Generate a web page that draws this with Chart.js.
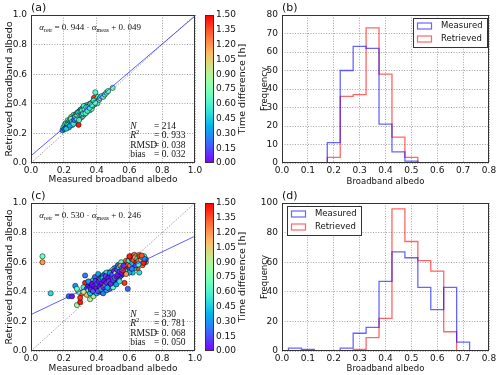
<!DOCTYPE html>
<html lang="en">
<head>
  <meta charset="UTF-8" />
  <title>Broadband albedo: measured vs retrieved</title>
  <script src="https://cdn.jsdelivr.net/npm/chart.js"></script>
  <style>
    body { margin: 0; background: #fff; }
    #fig { position: relative; width: 500px; height: 375px; }
    #fig canvas { position: absolute; }
  </style>
</head>
<body>
  <div id="fig">
    <canvas id="scatterTop" width="250" height="187" style="left:0;top:0"></canvas>
    <canvas id="histTop" width="250" height="187" style="left:250px;top:0"></canvas>
    <canvas id="scatterBottom" width="250" height="188" style="left:0;top:187px"></canvas>
    <canvas id="histBottom" width="250" height="188" style="left:250px;top:187px"></canvas>
  </div>

  <script>
    // ---- tick values ----
    const albedoTicks = [0, 0.2, 0.4, 0.6, 0.8, 1.0];
    const histAlbedoTicks = [0, 0.1, 0.2, 0.3, 0.4, 0.5, 0.6, 0.7, 0.8];
    const freqTicksTop = [0, 10, 20, 30, 40, 50, 60, 70, 80];
    const freqTicksBottom = [0, 20, 40, 60, 80, 100];
    const timeTicks = [0, 0.15, 0.30, 0.45, 0.60, 0.75, 0.90, 1.05, 1.20, 1.35, 1.50];

    // ---- panel (a): scatter ----
    const measA = [
      0.192,0.198,0.203,0.207,0.211,0.214,0.218,0.221,0.224,0.226,
      0.229,0.231,0.234,0.236,0.238,0.241,0.243,0.245,0.247,0.249,
      0.252,0.254,0.256,0.258,0.260,0.262,0.264,0.266,0.268,0.270,
      0.272,0.274,0.276,0.278,0.280,0.282,0.284,0.286,0.288,0.290,
      0.292,0.294,0.296,0.298,0.300,0.302,0.304,0.306,0.308,0.310,
      0.312,0.314,0.316,0.318,0.320,0.322,0.324,0.326,0.328,0.330,
      0.332,0.334,0.336,0.338,0.340,0.343,0.346,0.349,0.352,0.355,
      0.358,0.361,0.364,0.367,0.370,0.373,0.376,0.380,0.384,0.388,
      0.392,0.396,0.400,0.405,0.410,0.415,0.420,0.430,0.440,0.450,
      0.460,0.470,0.498,0.215,0.228,0.237,0.244,0.251,0.259,0.263,
      0.271,0.277,0.283,0.289,0.293,0.297,0.303,0.307,0.311,0.317,
      0.321,0.327,0.333,0.337,0.344,0.350,0.357,0.363,0.372,0.382,
      0.391
    ];
    const retrA = [
      0.222,0.241,0.229,0.262,0.236,0.270,0.247,0.262,0.289,0.246,
      0.274,0.240,0.284,0.270,0.296,0.268,0.282,0.311,0.266,0.293,
      0.257,0.303,0.276,0.298,0.325,0.280,0.307,0.271,0.316,0.295,
      0.328,0.290,0.319,0.283,0.335,0.306,0.341,0.297,0.326,0.258,
      0.312,0.349,0.301,0.337,0.318,0.360,0.322,0.347,0.309,0.366,
      0.333,0.352,0.318,0.371,0.340,0.362,0.329,0.380,0.347,0.337,
      0.374,0.352,0.389,0.343,0.366,0.385,0.357,0.394,0.368,0.382,
      0.356,0.401,0.375,0.389,0.366,0.410,0.386,0.397,0.440,0.398,
      0.478,0.412,0.433,0.404,0.447,0.427,0.439,0.452,0.447,0.463,
      0.476,0.486,0.508,0.232,0.258,0.252,0.298,0.279,0.265,0.291,
      0.312,0.301,0.322,0.340,0.290,0.327,0.343,0.328,0.355,0.336,
      0.385,0.362,0.336,0.377,0.352,0.378,0.372,0.398,0.392,0.421,
      0.407
    ];
    const timeDiffA = [
      0.40,0.55,0.30,0.62,0.45,0.66,0.35,0.58,0.70,0.25,
      0.60,0.50,0.65,0.55,0.80,0.62,0.58,0.68,0.45,0.60,
      0.50,0.70,0.62,0.40,0.66,0.55,0.60,0.20,0.64,0.58,
      0.62,0.55,0.68,0.35,0.62,0.60,0.45,0.66,0.58,1.45,
      0.62,0.50,0.90,0.64,0.55,0.30,0.66,0.60,0.60,0.68,
      0.58,0.62,0.62,0.40,0.64,0.55,0.68,0.60,0.50,1.45,
      0.66,0.62,0.58,0.30,0.66,0.60,0.64,0.68,0.55,1.40,
      0.60,0.50,0.66,0.62,0.75,0.58,0.64,0.55,1.40,0.60,
      0.64,0.68,0.62,0.60,0.66,0.62,0.58,0.64,0.62,0.58,
      0.62,0.66,0.72,0.45,0.60,0.35,0.66,0.62,0.58,0.25,
      0.64,0.60,0.68,0.55,0.62,0.85,0.66,0.40,0.60,0.64,
      0.58,0.62,0.66,0.55,0.60,0.70,0.55,0.64,0.62,0.60,
      0.66
    ];
    const fitA = [0.944, 0.049];           // slope, intercept
    const statsA = [214, 0.933, 0.038, 0.032];

    // ---- panel (c): scatter ----
    const measC = [
      0.07,0.07,0.12,0.23,0.25,0.27,0.28,0.30,0.30,0.31,
      0.29,0.28,0.33,0.33,0.32,0.59,0.57,0.36,0.38,0.34,
      0.66,0.62,0.70,0.70,0.34,0.35,0.35,0.36,0.36,0.37,
      0.37,0.37,0.38,0.38,0.38,0.39,0.39,0.39,0.39,0.40,
      0.40,0.40,0.40,0.41,0.41,0.41,0.41,0.42,0.42,0.42,
      0.42,0.43,0.43,0.43,0.43,0.44,0.44,0.44,0.44,0.45,
      0.45,0.45,0.45,0.46,0.46,0.46,0.46,0.47,0.47,0.47,
      0.47,0.48,0.48,0.48,0.48,0.49,0.49,0.49,0.49,0.50,
      0.50,0.50,0.50,0.51,0.51,0.51,0.51,0.52,0.52,0.52,
      0.52,0.53,0.53,0.53,0.53,0.54,0.54,0.54,0.54,0.55,
      0.55,0.55,0.56,0.56,0.56,0.57,0.57,0.57,0.58,0.58,
      0.58,0.59,0.59,0.60,0.60,0.60,0.61,0.61,0.61,0.62,
      0.62,0.62,0.63,0.63,0.63,0.64,0.64,0.64,0.65,0.65,
      0.65,0.66,0.66,0.66,0.67,0.67,0.68,0.68,0.69,0.69,
      0.63,0.60,0.55,0.46,0.36,0.32,0.35,0.44,0.50,0.58,
      0.365,0.372,0.378,0.385,0.392,0.398,0.404,0.408,0.413,0.418,
      0.423,0.427,0.432,0.437,0.441,0.446,0.451,0.456,0.461,0.466,
      0.471,0.476,0.481,0.486,0.491,0.496,0.501,0.506,0.511,0.516,
      0.521,0.526,0.531,0.536,0.541,0.546,0.551,0.556,0.561,0.566,
      0.592,0.598,0.604,0.612,0.618,0.626,0.634,0.642,0.648,0.656,
      0.662,0.672,0.678,0.685,0.692,0.640,0.615,0.655,0.600,0.675
    ];
    const retrC = [
      0.64,0.60,0.39,0.37,0.37,0.44,0.31,0.33,0.36,0.39,
      0.40,0.42,0.51,0.46,0.43,0.42,0.46,0.35,0.37,0.38,
      0.53,0.53,0.60,0.62,0.42,0.44,0.41,0.43,0.46,0.40,
      0.44,0.47,0.42,0.45,0.48,0.40,0.43,0.46,0.50,0.41,
      0.44,0.47,0.39,0.42,0.45,0.48,0.52,0.40,0.43,0.46,
      0.49,0.41,0.44,0.47,0.50,0.42,0.45,0.48,0.39,0.43,
      0.46,0.49,0.52,0.41,0.44,0.47,0.50,0.43,0.46,0.49,
      0.53,0.45,0.48,0.51,0.42,0.44,0.47,0.50,0.54,0.46,
      0.49,0.52,0.43,0.47,0.50,0.53,0.56,0.48,0.51,0.54,
      0.45,0.49,0.52,0.55,0.58,0.50,0.53,0.56,0.47,0.51,
      0.54,0.57,0.52,0.55,0.58,0.53,0.56,0.59,0.55,0.58,
      0.61,0.57,0.60,0.56,0.59,0.62,0.58,0.61,0.64,0.57,
      0.60,0.63,0.59,0.62,0.65,0.58,0.61,0.64,0.60,0.63,
      0.56,0.59,0.62,0.65,0.60,0.63,0.58,0.62,0.60,0.64,
      0.56,0.53,0.60,0.53,0.39,0.40,0.47,0.51,0.55,0.52,
      0.415,0.452,0.405,0.438,0.472,0.425,0.455,0.405,0.468,0.435,
      0.485,0.418,0.458,0.492,0.432,0.475,0.445,0.505,0.462,0.428,
      0.495,0.472,0.528,0.455,0.488,0.515,0.478,0.542,0.495,0.525,
      0.505,0.548,0.515,0.565,0.535,0.575,0.528,0.562,0.545,0.578,
      0.585,0.612,0.575,0.625,0.595,0.615,0.632,0.598,0.625,0.610,
      0.640,0.615,0.632,0.595,0.622,0.578,0.555,0.585,0.640,0.645
    ];
    const timeDiffC = [
      0.70,1.20,0.50,0.20,0.05,0.30,0.80,1.45,1.40,1.35,
      0.75,0.70,0.25,1.45,0.60,0.20,1.40,0.90,0.85,1.10,
      0.50,0.45,0.55,1.40,0.10,0.05,0.65,0.02,0.15,0.25,
      0.08,1.30,0.03,0.20,0.55,0.12,0.05,0.30,0.18,0.00,
      0.10,0.95,0.40,0.06,0.22,0.04,0.35,0.15,0.02,0.12,
      0.70,0.08,0.28,0.05,0.20,0.10,0.00,1.05,0.25,0.06,
      0.16,0.03,0.60,0.30,0.04,0.10,0.85,0.14,0.02,0.24,
      0.08,0.06,0.12,0.45,0.20,0.00,0.30,0.05,1.10,0.10,
      0.18,0.02,0.65,0.08,0.95,0.15,0.25,0.04,0.22,0.10,
      0.35,0.12,0.00,0.70,0.20,0.28,0.06,1.25,0.55,0.15,
      0.40,0.05,0.10,0.85,0.30,0.02,0.18,1.40,0.60,0.25,
      1.30,1.45,0.55,0.20,1.35,0.50,1.20,0.10,1.45,0.62,
      1.40,1.15,0.30,1.45,1.30,0.55,1.25,1.00,1.45,0.60,
      1.35,0.15,1.45,1.20,0.58,1.40,1.30,0.25,1.45,0.65,
      0.45,0.35,0.65,0.50,0.45,0.95,0.30,0.15,0.75,1.20,
      0.08,0.02,0.18,0.00,0.10,0.04,0.26,0.12,0.06,0.00,
      0.15,0.32,0.03,0.40,0.09,0.00,0.20,0.12,0.05,0.35,
      0.02,0.14,0.30,0.07,0.00,0.18,0.10,0.04,0.25,0.90,
      0.06,0.15,0.02,0.45,0.12,1.20,0.00,0.20,1.45,0.08,
      1.40,0.60,1.30,1.45,0.40,1.35,1.20,1.45,0.55,1.30,
      1.40,1.10,0.50,1.45,0.30,0.15,0.25,0.60,1.45,1.35
    ];
    const fitC = [0.530, 0.246];
    const statsC = [330, 0.781, 0.068, 0.050];

    // ---- panel (b): histogram ----
    const edgesMeasB = [0.175, 0.225, 0.275, 0.325, 0.375, 0.425, 0.475, 0.525];
    const countsMeasB = [11, 50, 63, 62, 21, 6, 1];
    const edgesRetrB = [0.175, 0.225, 0.275, 0.325, 0.375, 0.425, 0.475, 0.525];
    const countsRetrB = [3, 36, 37, 73, 48, 14, 3];

    // ---- panel (d): histogram ----
    const edgesMeasD = [0.025, 0.075, 0.125, 0.175, 0.225, 0.275, 0.325, 0.375,
                        0.425, 0.475, 0.525, 0.575, 0.625, 0.675, 0.725];
    const countsMeasD = [2, 1, 0, 0, 2, 12, 16, 47, 67, 63, 43, 28, 43, 6];
    const edgesRetrD = [0.275, 0.325, 0.375, 0.425, 0.475, 0.525, 0.575, 0.625, 0.675];
    const countsRetrD = [1, 9, 22, 96, 74, 61, 54, 13];

    Chart.defaults.font.family = 'DejaVu Sans';
    Chart.defaults.color = '#111';

    const tickFont = { family: 'DejaVu Sans', size: 9 };

    // matplotlib "rainbow" colormap
    function rainbow(f) {
      const r = Math.min(1, Math.abs(2 * f - 0.5));
      const g = Math.sin(Math.PI * f);
      const b = Math.cos(Math.PI * f / 2);
      return `rgb(${Math.round(r * 255)},${Math.round(g * 255)},${Math.round(b * 255)})`;
    }

    function stepPoints(edges, counts) {
      const pts = [{ x: edges[0], y: 0 }];
      counts.forEach((c, i) => pts.push({ x: edges[i], y: c }));
      pts.push({ x: edges[edges.length - 1], y: 0 });
      return pts;
    }

    function axis(pos, tickVals, digits, title, titleSize, titlePad, size) {
      return {
        type: 'linear',
        position: pos,
        min: tickVals[0],
        max: tickVals[tickVals.length - 1],
        afterBuildTicks: s => { s.ticks = tickVals.map(v => ({ value: v })); },
        ticks: {
          font: tickFont, color: '#111', autoSkip: false, maxRotation: 0,
          padding: pos === 'left' ? 4 : 2,
          callback: v => v.toFixed(digits)
        },
        grid: { color: '#8c8c8c', lineWidth: 0.8, drawTicks: false },
        border: { display: false, dash: [1, 1.6] },
        title: {
          display: true, text: title, color: '#111',
          font: { family: 'DejaVu Sans', size: titleSize },
          padding: titlePad
        },
        afterFit: s => { if (pos === 'left') s.width = size; else s.height = size; }
      };
    }

    // draws a run of text pieces: [text, font, dy]
    function richText(ctx, x, y, parts) {
      parts.forEach(([t, f, dy]) => {
        ctx.font = f;
        ctx.fillText(t, x, y + (dy || 0));
        x += ctx.measureText(t).width;
      });
    }

    const mIt = 'italic 9.5px "Liberation Serif"';
    const mRm = '9.5px "Liberation Serif"';
    const mSub = '6.5px "Liberation Serif"';
    const eIt = 'italic 9px "Liberation Serif"';
    const eRm = '9px "Liberation Serif"';
    const eSub = '6px "Liberation Serif"';
    const mathNum = (v, d) => v.toFixed(d).replace('.', '. ');

    const deco = {
      id: 'deco',
      afterDraw(chart, args, o) {
        const ctx = chart.ctx, a = chart.chartArea;
        const w = a.right - a.left, h = a.bottom - a.top;
        ctx.save();
        ctx.textBaseline = 'middle';
        ctx.textAlign = 'left';
        ctx.fillStyle = '#111';

        // panel letter
        ctx.font = '11px "DejaVu Sans"';
        ctx.fillText(o.label, a.left, a.top - 7);

        if (o.fit) {
          richText(ctx, a.left + 0.05 * w, a.top + 13, [
            ['α', eIt], ['retr', eSub, 2.5],
            [' = ' + mathNum(o.fit[0], 3) + ' · ', eRm],
            ['α', eIt], ['meas', eSub, 2.5],
            [' + ' + mathNum(o.fit[1], 3), eRm]
          ]);
          const rows = [
            [['N', mIt]],
            [['R', mIt], ['2', mSub, -3.5]],
            [['RMSD', mRm]],
            [['bias', mRm]]
          ];
          const vals = [String(o.stats[0]), mathNum(o.stats[1], 3), mathNum(o.stats[2], 3), mathNum(o.stats[3], 3)];
          rows.forEach((r, i) => {
            const y = a.top + 0.755 * h + i * 9.2;
            richText(ctx, a.left + 0.605 * w, y, r);
            richText(ctx, a.left + 0.75 * w, y, [['= ' + vals[i], mRm]]);
          });

          // colorbar
          const x0 = a.right + 10, cw = 8;
          const g = ctx.createLinearGradient(0, a.bottom, 0, a.top);
          for (let i = 0; i <= 24; i++) g.addColorStop(i / 24, rainbow(i / 24));
          ctx.fillStyle = g;
          ctx.fillRect(x0, a.top, cw, h);
          ctx.strokeStyle = '#333';
          ctx.lineWidth = 1;
          ctx.strokeRect(x0 + 0.5, a.top + 0.5, cw, h - 1);
          ctx.fillStyle = '#111';
          ctx.font = '9px "DejaVu Sans"';
          const tMax = timeTicks[timeTicks.length - 1];
          timeTicks.forEach(v => {
            const y = a.bottom - v / tMax * h;
            ctx.fillText(v.toFixed(2), x0 + cw + 3, y);
          });
          ctx.save();
          ctx.translate(a.right + 48, a.top + h / 2);
          ctx.rotate(-Math.PI / 2);
          ctx.textAlign = 'center';
          ctx.font = '9.5px "DejaVu Sans"';
          ctx.fillText('Time difference [h]', 0, 0);
          ctx.restore();
        }

        if (o.legend) {
          const bw = 74, bh = 29;
          const bx = o.legend === 'right' ? a.right - bw - 2 : a.left + 5;
          const by = a.top + 3;
          ctx.fillStyle = '#fff';
          ctx.fillRect(bx, by, bw, bh);
          ctx.strokeStyle = '#333';
          ctx.lineWidth = 1;
          ctx.strokeRect(bx + 0.5, by + 0.5, bw, bh);
          ctx.font = '8.5px "DejaVu Sans"';
          chart.data.datasets.forEach((ds, i) => {
            const y = by + 8 + i * 13;
            ctx.strokeStyle = ds.borderColor;
            ctx.lineWidth = 1.2;
            ctx.strokeRect(bx + 4.5, y - 3, 14, 6);
            ctx.fillStyle = '#111';
            ctx.fillText(ds.label, bx + 28, y);
          });
        }

        // frame
        ctx.strokeStyle = '#333';
        ctx.lineWidth = 1;
        ctx.strokeRect(Math.round(a.left) + 0.5, Math.round(a.top) + 0.5,
                       Math.round(w) - 1, Math.round(h) - 1);
        ctx.restore();
      }
    };

    function scatterPanel(id, meas, retr, dt, fit, stats, label, pad, xSize, xPad) {
      const tMax = timeTicks[timeTicks.length - 1];
      new Chart(document.getElementById(id), {
        type: 'scatter',
        data: {
          datasets: [
            {
              data: meas.map((x, i) => ({ x: x, y: retr[i] })),
              pointBackgroundColor: dt.map(t => rainbow(t / tMax)),
              pointBorderColor: '#000',
              pointBorderWidth: 0.5,
              pointRadius: 2.6,
              order: 2
            },
            {
              data: [{ x: 0, y: fit[1] }, { x: 1, y: fit[0] + fit[1] }],
              showLine: true, borderColor: 'rgba(40,40,255,0.75)', borderWidth: 1,
              pointRadius: 0, order: 1
            },
            {
              data: [{ x: 0, y: 0 }, { x: 1, y: 1 }],
              showLine: true, borderColor: '#8a8a8a', borderWidth: 0.8, borderDash: [1.5, 1.5],
              pointRadius: 0, order: 1
            }
          ]
        },
        options: {
          responsive: false,
          animation: false,
          layout: { padding: pad },
          plugins: {
            legend: { display: false },
            tooltip: { enabled: false },
            deco: { label: label, fit: fit, stats: stats }
          },
          scales: {
            x: axis('bottom', albedoTicks, 1, 'Measured broadband albedo', 9, { top: 0, bottom: xPad }, xSize),
            y: axis('left', albedoTicks, 1, 'Retrieved broadband albedo', 9.5, { top: 4.3, bottom: 0 }, 31)
          }
        },
        plugins: [deco]
      });
    }

    function histPanel(id, meas, retr, freqTicks, label, legendSide, pad, xSize, xPad) {
      new Chart(document.getElementById(id), {
        type: 'line',
        data: {
          datasets: [
            { label: 'Measured', data: stepPoints(meas[0], meas[1]), stepped: true,
              borderColor: 'rgba(0,0,255,0.6)', borderWidth: 1.3, pointRadius: 0, fill: false },
            { label: 'Retrieved', data: stepPoints(retr[0], retr[1]), stepped: true,
              borderColor: 'rgba(255,0,0,0.6)', borderWidth: 1.3, pointRadius: 0, fill: false }
          ]
        },
        options: {
          responsive: false,
          animation: false,
          layout: { padding: pad },
          plugins: {
            legend: { display: false },
            tooltip: { enabled: false },
            deco: { label: label, legend: legendSide }
          },
          scales: {
            x: axis('bottom', histAlbedoTicks, 1, 'Broadband albedo', 8.5, { top: 0, bottom: xPad }, xSize),
            y: axis('left', freqTicks, 0, 'Frequency', 8.5, { top: 9.4, bottom: 0 }, 32)
          }
        },
        plugins: [deco]
      });
    }

    scatterPanel('scatterTop', measA, retrA, timeDiffA, fitA, statsA, '(a)',
                 { top: 15, right: 55, left: 0, bottom: 0 }, 24, 2.2);
    scatterPanel('scatterBottom', measC, retrC, timeDiffC, fitC, statsC, '(c)',
                 { top: 16, right: 55, left: 0, bottom: 0 }, 24, 1.4);
    histPanel('histTop', [edgesMeasB, countsMeasB], [edgesRetrB, countsRetrB], freqTicksTop, '(b)', 'right',
              { top: 15, right: 11, left: 0, bottom: 0 }, 24, 0.3);
    histPanel('histBottom', [edgesMeasD, countsMeasD], [edgesRetrD, countsRetrD], freqTicksBottom, '(d)', 'left',
              { top: 16, right: 11, left: 0, bottom: 0 }, 24, 1.6);
  </script>
</body>
</html>
